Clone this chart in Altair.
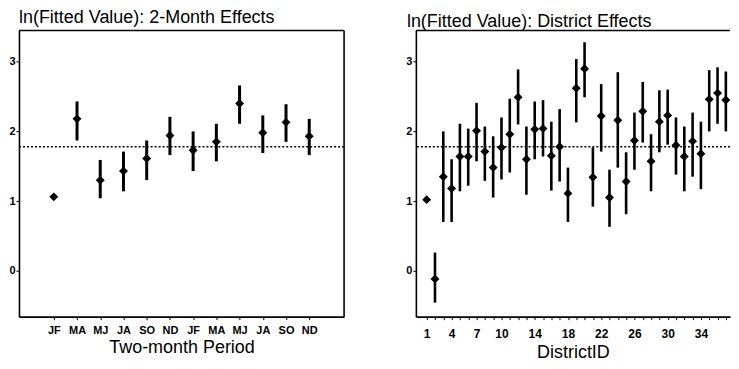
import altair as alt
import pandas as pd

FONT = "Liberation Sans"

TITLE_LEFT = "ln(Fitted Value): 2-Month Effects"
TITLE_RIGHT = "ln(Fitted Value): District Effects"
XTITLE_LEFT = "Two-month Period"
XTITLE_RIGHT = "DistrictID"

# Left panel: two-month period effects
PERIOD_LABELS = ["JF", "MA", "MJ", "JA", "SO", "ND", "JF", "MA", "MJ", "JA", "SO", "ND"]
PERIOD_IDX = list(range(1, 13))
PERIOD_EST = [1.06, 2.18, 1.30, 1.43, 1.61, 1.94, 1.73, 1.85, 2.40, 1.98, 2.13, 1.93]
PERIOD_LO = [1.06, 1.87, 1.04, 1.14, 1.30, 1.66, 1.43, 1.57, 2.11, 1.69, 1.85, 1.66]
PERIOD_HI = [1.06, 2.43, 1.59, 1.71, 1.87, 2.21, 2.00, 2.11, 2.66, 2.23, 2.39, 2.18]

# Right panel: district effects
DISTRICT_ID = list(range(1, 38))
DISTRICT_EST = [1.02, -0.12, 1.35, 1.18, 1.64, 1.64, 2.01, 1.71, 1.48, 1.77,
                1.96, 2.49, 1.60, 2.03, 2.04, 1.65, 1.78, 1.11, 2.62, 2.90,
                1.34, 2.22, 1.05, 2.16, 1.28, 1.87, 2.29, 1.57, 2.14, 2.23,
                1.80, 1.64, 1.86, 1.68, 2.46, 2.55, 2.45]
DISTRICT_HI = [1.02, 0.26, 2.00, 1.60, 2.11, 2.04, 2.41, 2.07, 1.93, 2.20,
               2.47, 2.89, 2.07, 2.43, 2.45, 2.14, 2.32, 1.48, 3.04, 3.28,
               1.77, 2.68, 1.45, 2.85, 1.70, 2.27, 2.71, 1.96, 2.59, 2.60,
               2.20, 2.07, 2.27, 2.14, 2.88, 2.92, 2.86]
DISTRICT_LO = [1.02, -0.46, 0.70, 0.70, 1.14, 1.22, 1.57, 1.29, 1.05, 1.31,
               1.41, 2.10, 1.09, 1.60, 1.64, 1.15, 1.28, 0.70, 2.13, 2.49,
               0.92, 1.71, 0.63, 1.48, 0.81, 1.45, 1.84, 1.14, 1.70, 1.81,
               1.38, 1.14, 1.35, 1.17, 2.00, 2.11, 2.00]
DISTRICT_TICK_LABELS = [1, 4, 7, 10, 14, 18, 22, 26, 30, 34]

Y_TICKS = [0, 1, 2, 3]
Y_DOMAIN = [-0.66, 3.45]
GRAND_MEAN = 1.78

left_df = pd.DataFrame({"x": PERIOD_IDX, "est": PERIOD_EST, "lo": PERIOD_LO, "hi": PERIOD_HI})
right_df = pd.DataFrame({"x": DISTRICT_ID, "est": DISTRICT_EST, "lo": DISTRICT_LO, "hi": DISTRICT_HI})
mean_df = pd.DataFrame({"m": [GRAND_MEAN]})

left_label_expr = "[" + ",".join("'%s'" % s for s in PERIOD_LABELS) + "][datum.value - 1]"
right_label_expr = ("indexof([" + ",".join(str(v) for v in DISTRICT_TICK_LABELS)
                    + "], datum.value) >= 0 ? datum.label : ''")


def make_panel(df, x_domain, x_values, label_expr, x_title, title, width,
               title_dx, title_dy, right_border, label_pad, label_size, title_pad, bar_w):
    xs = alt.Scale(domain=x_domain, nice=False, zero=False)
    ys = alt.Scale(domain=Y_DOMAIN, nice=False, zero=False)
    x_axis = alt.Axis(values=x_values, labelExpr=label_expr, title=x_title,
                      labelPadding=label_pad, labelFontSize=label_size,
                      titlePadding=title_pad)
    y_axis = alt.Axis(values=Y_TICKS, format="d", title=None, labelPadding=1,
                      labelFontSize=11)

    bars = alt.Chart(df).mark_rule(color="black", strokeWidth=bar_w).encode(
        x=alt.X("x:Q", scale=xs, axis=x_axis),
        y=alt.Y("lo:Q", scale=ys, axis=y_axis),
        y2="hi:Q",
    )
    ref = alt.Chart(mean_df).mark_rule(color="black", strokeWidth=1.6, strokeDash=[2, 2]).encode(
        y=alt.Y("m:Q", scale=ys, axis=y_axis)
    )
    pts = alt.Chart(df).mark_point(shape="diamond", filled=True, color="black",
                                   size=80, opacity=1).encode(
        x=alt.X("x:Q", scale=xs, axis=x_axis),
        y=alt.Y("est:Q", scale=ys, axis=y_axis),
    )
    # frame: top border (and right border for the left panel) at the scale limits
    top = alt.Chart(mean_df).mark_rule(color="black", strokeWidth=1.6).encode(
        y=alt.datum(Y_DOMAIN[1], scale=ys, axis=y_axis)
    )
    layers = [bars, ref, pts, top]
    if right_border:
        rb = alt.Chart(mean_df).mark_rule(color="black", strokeWidth=1.6).encode(
            x=alt.datum(x_domain[1], scale=xs, axis=x_axis)
        )
        layers.append(rb)
    return alt.layer(*layers).properties(
        width=width, height=287,
        title=alt.TitleParams(title, anchor="start", frame="group", font=FONT,
                              fontSize=18, fontWeight="normal", color="black",
                              offset=3, dx=title_dx, dy=title_dy),
    )


left = make_panel(left_df, [-0.5, 13.5], PERIOD_IDX, left_label_expr, XTITLE_LEFT,
                  TITLE_LEFT, 326, 0, 0, True, 5, 11, 3, 3)
right = make_panel(right_df, [-0.3, 37.5], DISTRICT_ID, right_label_expr, XTITLE_RIGHT,
                   TITLE_RIGHT, 315, -9, 4, False, 9, 12, 4, 2.6)

chart = alt.hconcat(left, right, spacing=60, padding=0).configure_view(
    stroke=None
).configure_axis(
    grid=False,
    domainColor="black", domainWidth=1.6,
    tickColor="black", tickWidth=1, tickSize=3,
    labelFont=FONT, labelFontWeight="bold", labelColor="black",
    labelOverlap=False, labelFlush=False,
    titleFont=FONT, titleFontSize=18, titleFontWeight="normal", titleColor="black",
)

chart.save("out.html", embed_options={"renderer": "svg", "actions": False})
